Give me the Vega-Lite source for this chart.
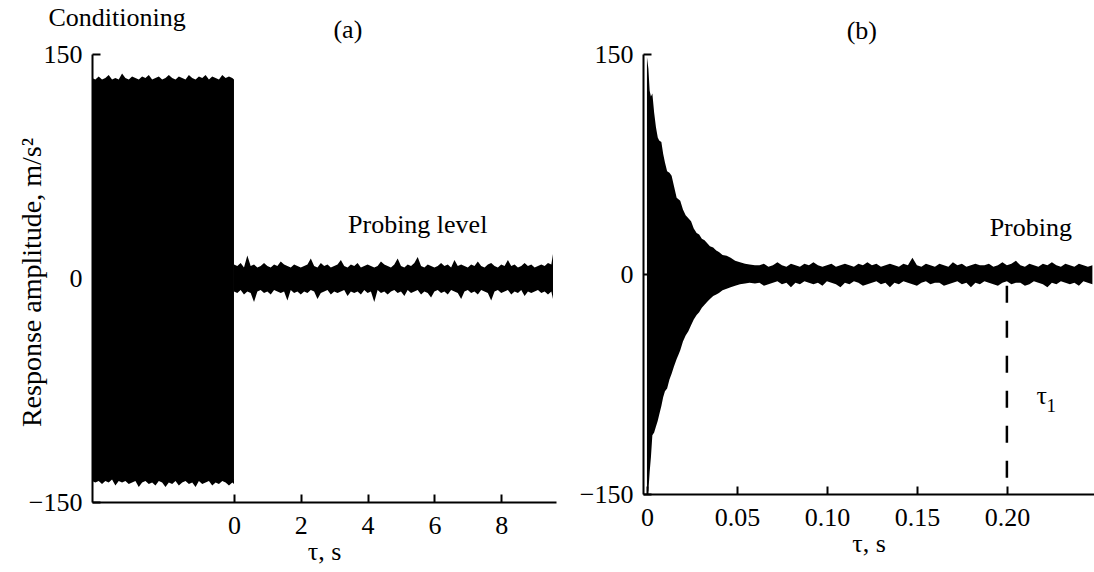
{
  "$schema": "https://vega.github.io/schema/vega-lite/v6.json",
  "padding": {"left": 18, "top": 5, "right": 0, "bottom": 0},
  "bounds": "flush",
  "spacing": 87,
  "config": {
    "font": "Liberation Serif",
    "view": {"stroke": null},
    "axis": {
      "grid": false,
      "domainColor": "black",
      "domainWidth": 2,
      "tickColor": "black",
      "tickWidth": 2,
      "tickSize": -8,
      "labelFont": "Liberation Serif",
      "labelFontSize": 26,
      "labelColor": "black",
      "labelPadding": 18,
      "titleFont": "Liberation Serif",
      "titleFontSize": 26,
      "titleFontWeight": "normal",
      "titleColor": "black"
    },
    "text": {"font": "Liberation Serif", "fontSize": 26, "color": "black"}
  },
  "datasets": {
    "sigA": [
      {"part": "c", "x": -4.25, "hi": 134, "lo": -136},
      {"part": "c", "x": -4.15, "hi": 133, "lo": -137},
      {"part": "c", "x": -4.05, "hi": 135, "lo": -136},
      {"part": "c", "x": -3.95, "hi": 133, "lo": -138},
      {"part": "c", "x": -3.85, "hi": 134, "lo": -136},
      {"part": "c", "x": -3.75, "hi": 136, "lo": -137},
      {"part": "c", "x": -3.65, "hi": 133, "lo": -135},
      {"part": "c", "x": -3.55, "hi": 134, "lo": -139},
      {"part": "c", "x": -3.45, "hi": 133, "lo": -136},
      {"part": "c", "x": -3.35, "hi": 137, "lo": -137},
      {"part": "c", "x": -3.25, "hi": 134, "lo": -136},
      {"part": "c", "x": -3.15, "hi": 133, "lo": -138},
      {"part": "c", "x": -3.05, "hi": 135, "lo": -137},
      {"part": "c", "x": -2.95, "hi": 134, "lo": -136},
      {"part": "c", "x": -2.85, "hi": 133, "lo": -140},
      {"part": "c", "x": -2.75, "hi": 135, "lo": -137},
      {"part": "c", "x": -2.65, "hi": 134, "lo": -136},
      {"part": "c", "x": -2.55, "hi": 136, "lo": -138},
      {"part": "c", "x": -2.45, "hi": 133, "lo": -137},
      {"part": "c", "x": -2.35, "hi": 134, "lo": -139},
      {"part": "c", "x": -2.25, "hi": 135, "lo": -136},
      {"part": "c", "x": -2.15, "hi": 133, "lo": -137},
      {"part": "c", "x": -2.05, "hi": 134, "lo": -140},
      {"part": "c", "x": -1.95, "hi": 136, "lo": -137},
      {"part": "c", "x": -1.85, "hi": 134, "lo": -138},
      {"part": "c", "x": -1.75, "hi": 133, "lo": -136},
      {"part": "c", "x": -1.65, "hi": 135, "lo": -139},
      {"part": "c", "x": -1.55, "hi": 134, "lo": -137},
      {"part": "c", "x": -1.45, "hi": 133, "lo": -136},
      {"part": "c", "x": -1.35, "hi": 136, "lo": -138},
      {"part": "c", "x": -1.25, "hi": 134, "lo": -137},
      {"part": "c", "x": -1.15, "hi": 133, "lo": -140},
      {"part": "c", "x": -1.05, "hi": 135, "lo": -136},
      {"part": "c", "x": -0.95, "hi": 134, "lo": -138},
      {"part": "c", "x": -0.85, "hi": 136, "lo": -137},
      {"part": "c", "x": -0.75, "hi": 133, "lo": -136},
      {"part": "c", "x": -0.65, "hi": 135, "lo": -139},
      {"part": "c", "x": -0.55, "hi": 134, "lo": -137},
      {"part": "c", "x": -0.45, "hi": 133, "lo": -138},
      {"part": "c", "x": -0.35, "hi": 136, "lo": -136},
      {"part": "c", "x": -0.25, "hi": 134, "lo": -137},
      {"part": "c", "x": -0.15, "hi": 135, "lo": -139},
      {"part": "c", "x": -0.05, "hi": 134, "lo": -137},
      {"part": "c", "x": 0.0, "hi": 133, "lo": -138},
      {"part": "p", "x": 0.0, "hi": 9, "lo": -9},
      {"part": "p", "x": 0.1, "hi": 8, "lo": -10},
      {"part": "p", "x": 0.2, "hi": 10, "lo": -8},
      {"part": "p", "x": 0.3, "hi": 7, "lo": -11},
      {"part": "p", "x": 0.4, "hi": 15, "lo": -9},
      {"part": "p", "x": 0.5, "hi": 8, "lo": -10},
      {"part": "p", "x": 0.6, "hi": 9, "lo": -16},
      {"part": "p", "x": 0.7, "hi": 7, "lo": -9},
      {"part": "p", "x": 0.8, "hi": 8, "lo": -8},
      {"part": "p", "x": 0.9, "hi": 10, "lo": -10},
      {"part": "p", "x": 1.0, "hi": 8, "lo": -9},
      {"part": "p", "x": 1.1, "hi": 7, "lo": -11},
      {"part": "p", "x": 1.2, "hi": 9, "lo": -8},
      {"part": "p", "x": 1.3, "hi": 8, "lo": -9},
      {"part": "p", "x": 1.4, "hi": 11, "lo": -10},
      {"part": "p", "x": 1.5, "hi": 9, "lo": -9},
      {"part": "p", "x": 1.6, "hi": 8, "lo": -15},
      {"part": "p", "x": 1.7, "hi": 7, "lo": -8},
      {"part": "p", "x": 1.8, "hi": 9, "lo": -10},
      {"part": "p", "x": 1.9, "hi": 8, "lo": -9},
      {"part": "p", "x": 2.0, "hi": 7, "lo": -11},
      {"part": "p", "x": 2.1, "hi": 8, "lo": -9},
      {"part": "p", "x": 2.2, "hi": 9, "lo": -10},
      {"part": "p", "x": 2.3, "hi": 13, "lo": -8},
      {"part": "p", "x": 2.4, "hi": 8, "lo": -9},
      {"part": "p", "x": 2.5, "hi": 7, "lo": -14},
      {"part": "p", "x": 2.6, "hi": 10, "lo": -10},
      {"part": "p", "x": 2.7, "hi": 8, "lo": -9},
      {"part": "p", "x": 2.8, "hi": 9, "lo": -8},
      {"part": "p", "x": 2.9, "hi": 7, "lo": -11},
      {"part": "p", "x": 3.0, "hi": 8, "lo": -9},
      {"part": "p", "x": 3.1, "hi": 9, "lo": -10},
      {"part": "p", "x": 3.2, "hi": 12, "lo": -9},
      {"part": "p", "x": 3.3, "hi": 8, "lo": -8},
      {"part": "p", "x": 3.4, "hi": 7, "lo": -12},
      {"part": "p", "x": 3.5, "hi": 9, "lo": -9},
      {"part": "p", "x": 3.6, "hi": 8, "lo": -10},
      {"part": "p", "x": 3.7, "hi": 10, "lo": -9},
      {"part": "p", "x": 3.8, "hi": 7, "lo": -11},
      {"part": "p", "x": 3.9, "hi": 8, "lo": -8},
      {"part": "p", "x": 4.0, "hi": 9, "lo": -10},
      {"part": "p", "x": 4.1, "hi": 8, "lo": -9},
      {"part": "p", "x": 4.2, "hi": 7, "lo": -16},
      {"part": "p", "x": 4.3, "hi": 8, "lo": -8},
      {"part": "p", "x": 4.4, "hi": 11, "lo": -10},
      {"part": "p", "x": 4.5, "hi": 9, "lo": -9},
      {"part": "p", "x": 4.6, "hi": 8, "lo": -11},
      {"part": "p", "x": 4.7, "hi": 7, "lo": -9},
      {"part": "p", "x": 4.8, "hi": 9, "lo": -8},
      {"part": "p", "x": 4.9, "hi": 13, "lo": -10},
      {"part": "p", "x": 5.0, "hi": 8, "lo": -9},
      {"part": "p", "x": 5.1, "hi": 7, "lo": -12},
      {"part": "p", "x": 5.2, "hi": 9, "lo": -8},
      {"part": "p", "x": 5.3, "hi": 8, "lo": -10},
      {"part": "p", "x": 5.4, "hi": 10, "lo": -9},
      {"part": "p", "x": 5.5, "hi": 14, "lo": -8},
      {"part": "p", "x": 5.6, "hi": 8, "lo": -11},
      {"part": "p", "x": 5.7, "hi": 7, "lo": -9},
      {"part": "p", "x": 5.8, "hi": 9, "lo": -10},
      {"part": "p", "x": 5.9, "hi": 8, "lo": -13},
      {"part": "p", "x": 6.0, "hi": 7, "lo": -9},
      {"part": "p", "x": 6.1, "hi": 8, "lo": -8},
      {"part": "p", "x": 6.2, "hi": 10, "lo": -10},
      {"part": "p", "x": 6.3, "hi": 8, "lo": -9},
      {"part": "p", "x": 6.4, "hi": 9, "lo": -11},
      {"part": "p", "x": 6.5, "hi": 7, "lo": -8},
      {"part": "p", "x": 6.6, "hi": 12, "lo": -9},
      {"part": "p", "x": 6.7, "hi": 8, "lo": -10},
      {"part": "p", "x": 6.8, "hi": 9, "lo": -14},
      {"part": "p", "x": 6.9, "hi": 8, "lo": -9},
      {"part": "p", "x": 7.0, "hi": 7, "lo": -8},
      {"part": "p", "x": 7.1, "hi": 9, "lo": -10},
      {"part": "p", "x": 7.2, "hi": 8, "lo": -9},
      {"part": "p", "x": 7.3, "hi": 11, "lo": -11},
      {"part": "p", "x": 7.4, "hi": 8, "lo": -8},
      {"part": "p", "x": 7.5, "hi": 7, "lo": -9},
      {"part": "p", "x": 7.6, "hi": 9, "lo": -10},
      {"part": "p", "x": 7.7, "hi": 10, "lo": -15},
      {"part": "p", "x": 7.8, "hi": 8, "lo": -9},
      {"part": "p", "x": 7.9, "hi": 7, "lo": -8},
      {"part": "p", "x": 8.0, "hi": 9, "lo": -10},
      {"part": "p", "x": 8.1, "hi": 8, "lo": -9},
      {"part": "p", "x": 8.2, "hi": 12, "lo": -8},
      {"part": "p", "x": 8.3, "hi": 8, "lo": -11},
      {"part": "p", "x": 8.4, "hi": 9, "lo": -9},
      {"part": "p", "x": 8.5, "hi": 7, "lo": -10},
      {"part": "p", "x": 8.6, "hi": 8, "lo": -8},
      {"part": "p", "x": 8.7, "hi": 10, "lo": -12},
      {"part": "p", "x": 8.8, "hi": 8, "lo": -9},
      {"part": "p", "x": 8.9, "hi": 9, "lo": -10},
      {"part": "p", "x": 9.0, "hi": 7, "lo": -9},
      {"part": "p", "x": 9.1, "hi": 8, "lo": -8},
      {"part": "p", "x": 9.2, "hi": 9, "lo": -10},
      {"part": "p", "x": 9.3, "hi": 8, "lo": -9},
      {"part": "p", "x": 9.4, "hi": 10, "lo": -11},
      {"part": "p", "x": 9.5, "hi": 9, "lo": -9},
      {"part": "p", "x": 9.55, "hi": 16, "lo": -14}
    ],
    "labelsA": [
      {"x": -3.5, "hi": 174, "label": "Conditioning"},
      {"x": 3.41, "hi": 166, "label": "(a)"},
      {"x": 5.5, "hi": 35.5, "label": "Probing level"}
    ],
    "sigB": [
      {"x": 0.0, "hi": 148, "lo": -150},
      {"x": 0.0008, "hi": 140, "lo": -148},
      {"x": 0.0015, "hi": 125, "lo": -135},
      {"x": 0.0022, "hi": 121, "lo": -125},
      {"x": 0.003, "hi": 123, "lo": -110},
      {"x": 0.004, "hi": 110, "lo": -108},
      {"x": 0.005, "hi": 100, "lo": -104},
      {"x": 0.006, "hi": 93, "lo": -100},
      {"x": 0.0068, "hi": 91, "lo": -96},
      {"x": 0.008, "hi": 90, "lo": -90},
      {"x": 0.009, "hi": 82, "lo": -84},
      {"x": 0.01, "hi": 76, "lo": -80},
      {"x": 0.0112, "hi": 70, "lo": -78},
      {"x": 0.0125, "hi": 69, "lo": -72},
      {"x": 0.0137, "hi": 67, "lo": -68},
      {"x": 0.015, "hi": 60, "lo": -63},
      {"x": 0.0165, "hi": 52, "lo": -58},
      {"x": 0.0175, "hi": 51, "lo": -55},
      {"x": 0.0185, "hi": 50, "lo": -52},
      {"x": 0.02, "hi": 44, "lo": -46},
      {"x": 0.0215, "hi": 40, "lo": -42},
      {"x": 0.023, "hi": 38, "lo": -39},
      {"x": 0.0245, "hi": 36, "lo": -35},
      {"x": 0.026, "hi": 31, "lo": -31},
      {"x": 0.0276, "hi": 28, "lo": -28},
      {"x": 0.029, "hi": 27, "lo": -26},
      {"x": 0.0305, "hi": 24, "lo": -23},
      {"x": 0.032, "hi": 23, "lo": -21},
      {"x": 0.0335, "hi": 21, "lo": -19},
      {"x": 0.035, "hi": 19, "lo": -17},
      {"x": 0.0368, "hi": 18, "lo": -15},
      {"x": 0.0385, "hi": 16, "lo": -14},
      {"x": 0.04, "hi": 15, "lo": -13},
      {"x": 0.042, "hi": 13, "lo": -11},
      {"x": 0.0443, "hi": 12.5, "lo": -10},
      {"x": 0.0465, "hi": 11, "lo": -9},
      {"x": 0.049, "hi": 9, "lo": -8},
      {"x": 0.0517, "hi": 8, "lo": -7},
      {"x": 0.0545, "hi": 7, "lo": -6.5},
      {"x": 0.057, "hi": 6.5, "lo": -6},
      {"x": 0.06, "hi": 6, "lo": -6.5},
      {"x": 0.0625, "hi": 6, "lo": -6},
      {"x": 0.065, "hi": 7, "lo": -8},
      {"x": 0.0675, "hi": 5, "lo": -7},
      {"x": 0.07, "hi": 6, "lo": -6},
      {"x": 0.0725, "hi": 8, "lo": -5},
      {"x": 0.075, "hi": 6, "lo": -7},
      {"x": 0.0775, "hi": 5, "lo": -6},
      {"x": 0.08, "hi": 7, "lo": -9},
      {"x": 0.0825, "hi": 6, "lo": -6},
      {"x": 0.085, "hi": 5, "lo": -7},
      {"x": 0.0875, "hi": 7, "lo": -5},
      {"x": 0.09, "hi": 6, "lo": -6},
      {"x": 0.0925, "hi": 8, "lo": -7},
      {"x": 0.095, "hi": 6, "lo": -6},
      {"x": 0.0975, "hi": 5, "lo": -8},
      {"x": 0.1, "hi": 6, "lo": -5},
      {"x": 0.1025, "hi": 7, "lo": -6},
      {"x": 0.105, "hi": 5, "lo": -7},
      {"x": 0.1075, "hi": 6, "lo": -9},
      {"x": 0.11, "hi": 7, "lo": -6},
      {"x": 0.1125, "hi": 6, "lo": -7},
      {"x": 0.115, "hi": 5, "lo": -5},
      {"x": 0.1175, "hi": 7, "lo": -6},
      {"x": 0.12, "hi": 6, "lo": -8},
      {"x": 0.1225, "hi": 8, "lo": -7},
      {"x": 0.125, "hi": 6, "lo": -6},
      {"x": 0.1275, "hi": 7, "lo": -5},
      {"x": 0.13, "hi": 5, "lo": -7},
      {"x": 0.1325, "hi": 6, "lo": -6},
      {"x": 0.135, "hi": 7, "lo": -9},
      {"x": 0.1375, "hi": 6, "lo": -6},
      {"x": 0.14, "hi": 5, "lo": -7},
      {"x": 0.1425, "hi": 7, "lo": -5},
      {"x": 0.145, "hi": 6, "lo": -6},
      {"x": 0.1475, "hi": 11, "lo": -7},
      {"x": 0.15, "hi": 6, "lo": -8},
      {"x": 0.1525, "hi": 5, "lo": -6},
      {"x": 0.155, "hi": 7, "lo": -5},
      {"x": 0.1575, "hi": 6, "lo": -7},
      {"x": 0.16, "hi": 5, "lo": -6},
      {"x": 0.1625, "hi": 7, "lo": -6},
      {"x": 0.165, "hi": 6, "lo": -8},
      {"x": 0.1675, "hi": 5, "lo": -7},
      {"x": 0.17, "hi": 8, "lo": -6},
      {"x": 0.1725, "hi": 6, "lo": -5},
      {"x": 0.175, "hi": 7, "lo": -7},
      {"x": 0.1775, "hi": 5, "lo": -6},
      {"x": 0.18, "hi": 6, "lo": -9},
      {"x": 0.1825, "hi": 7, "lo": -6},
      {"x": 0.185, "hi": 6, "lo": -7},
      {"x": 0.1875, "hi": 6, "lo": -5},
      {"x": 0.19, "hi": 7, "lo": -6},
      {"x": 0.1925, "hi": 5, "lo": -7},
      {"x": 0.195, "hi": 6, "lo": -8},
      {"x": 0.1975, "hi": 8, "lo": -6},
      {"x": 0.2, "hi": 6, "lo": -5},
      {"x": 0.2025, "hi": 7, "lo": -7},
      {"x": 0.205, "hi": 9, "lo": -6},
      {"x": 0.2075, "hi": 6, "lo": -6},
      {"x": 0.21, "hi": 5, "lo": -8},
      {"x": 0.2125, "hi": 7, "lo": -7},
      {"x": 0.215, "hi": 6, "lo": -5},
      {"x": 0.2175, "hi": 5, "lo": -6},
      {"x": 0.22, "hi": 7, "lo": -7},
      {"x": 0.2225, "hi": 6, "lo": -9},
      {"x": 0.225, "hi": 8, "lo": -6},
      {"x": 0.2275, "hi": 6, "lo": -7},
      {"x": 0.23, "hi": 5, "lo": -5},
      {"x": 0.2325, "hi": 7, "lo": -6},
      {"x": 0.235, "hi": 6, "lo": -7},
      {"x": 0.2375, "hi": 5, "lo": -6},
      {"x": 0.24, "hi": 7, "lo": -8},
      {"x": 0.2425, "hi": 6, "lo": -5},
      {"x": 0.245, "hi": 5, "lo": -6},
      {"x": 0.2475, "hi": 6, "lo": -7}
    ],
    "ruleB": [
      {"x": 0.2, "hi": -8, "lo": -150}
    ],
    "labelsB": [
      {"x": 0.1194, "hi": 166, "label": "(b)"},
      {"x": 0.2133, "hi": 31.4, "label": "Probing"},
      {"x": 0.2193, "hi": -83, "label": "τ"}
    ],
    "subB": [
      {"x": 0.2247, "hi": -90, "label": "1"}
    ]
  },
  "hconcat": [
    {
      "width": 464,
      "height": 448,
      "encoding": {
        "x": {
          "field": "x",
          "type": "quantitative",
          "scale": {"domain": [-4.25, 9.64], "nice": false, "zero": false},
          "axis": {"values": [0, 2, 4, 6, 8], "title": "τ, s", "titlePadding": 0}
        },
        "y": {
          "field": "hi",
          "type": "quantitative",
          "scale": {"domain": [-150, 150], "nice": false, "zero": false},
          "axis": {"values": [-150, 0, 150], "title": "Response amplitude, m/s²", "titleFontSize": 28, "titleAngle": -90, "titleBaseline": "bottom", "titleAlign": "center", "titleX": -46, "titleY": 228}
        }
      },
      "layer": [
        {
          "data": {"name": "sigA"},
          "mark": {"type": "area", "color": "black", "opacity": 1},
          "encoding": {
            "y2": {"field": "lo"},
            "detail": {"field": "part"}
          }
        },
        {
          "data": {"name": "labelsA"},
          "mark": {"type": "text", "align": "center", "baseline": "middle"},
          "encoding": {"text": {"field": "label"}}
        }
      ]
    },
    {
      "width": 451,
      "height": 440,
      "encoding": {
        "x": {
          "field": "x",
          "type": "quantitative",
          "scale": {"domain": [-0.0022, 0.2484], "nice": false, "zero": false},
          "axis": {"values": [0, 0.05, 0.1, 0.15, 0.2], "labelExpr": "datum.value == 0 ? '0' : format(datum.value, '.2f')", "title": "τ, s", "titlePadding": 0}
        },
        "y": {
          "field": "hi",
          "type": "quantitative",
          "scale": {"domain": [-150, 150], "nice": false, "zero": false},
          "axis": {"values": [-150, 0, 150], "title": null}
        }
      },
      "layer": [
        {
          "data": {"name": "sigB"},
          "mark": {"type": "area", "color": "black", "opacity": 1},
          "encoding": {"y2": {"field": "lo"}}
        },
        {
          "data": {"name": "ruleB"},
          "mark": {"type": "rule", "color": "black", "strokeWidth": 2.5, "strokeDash": [17, 18]},
          "encoding": {"y2": {"field": "lo"}}
        },
        {
          "data": {"name": "labelsB"},
          "mark": {"type": "text", "align": "center", "baseline": "middle"},
          "encoding": {"text": {"field": "label"}}
        },
        {
          "data": {"name": "subB"},
          "mark": {"type": "text", "align": "center", "baseline": "middle", "fontSize": 19},
          "encoding": {"text": {"field": "label"}}
        }
      ]
    }
  ]
}
